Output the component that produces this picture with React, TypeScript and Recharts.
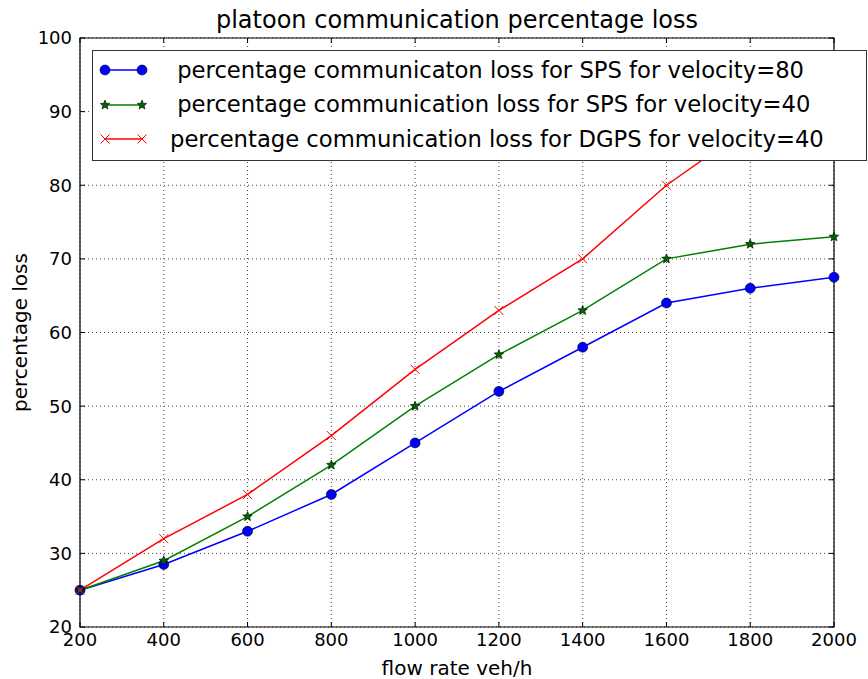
import React from 'react';
import {
  LineChart,
  Line,
  XAxis,
  YAxis,
  CartesianGrid,
  Legend,
  ReferenceArea,
} from 'recharts';

// flow rate categories (veh/h)
const FLOW = [200, 400, 600, 800, 1000, 1200, 1400, 1600, 1800, 2000];

// series values
const SPS_V80 = [25, 28.5, 33, 38, 45, 52, 58, 64, 66, 67.5];
const SPS_V40 = [25, 29, 35, 42, 50, 57, 63, 70, 72, 73];
const DGPS_V40 = [25, 32, 38, 46, 55, 63, 70, 80, 88, 93];

const X_TICKS = [200, 400, 600, 800, 1000, 1200, 1400, 1600, 1800, 2000];
const Y_TICKS = [20, 30, 40, 50, 60, 70, 80, 90, 100];

const W = 868;
const H = 679;
const TOP = 38;
const RIGHT = 34;
const Y_AXIS_W = 80;
const X_AXIS_H = 52;
const FONT = '"DejaVu Sans", sans-serif';

const SERIES = [
  { key: 'sps80', name: ' percentage communicaton loss for SPS for velocity=80', color: '#0000ff', marker: 'circle' },
  { key: 'sps40', name: ' percentage communication loss for SPS for velocity=40', color: '#008000', marker: 'star' },
  { key: 'dgps40', name: 'percentage communication loss for DGPS for velocity=40', color: '#ff0000', marker: 'x' },
];

const data = FLOW.map((f, i) => ({
  flow: f,
  sps80: SPS_V80[i],
  sps40: SPS_V40[i],
  dgps40: DGPS_V40[i],
}));

function starPath(cx: number, cy: number, ro: number, ri: number) {
  let d = '';
  for (let k = 0; k < 10; k++) {
    const r = k % 2 === 0 ? ro : ri;
    const a = -Math.PI / 2 + (k * Math.PI) / 5;
    d += (k === 0 ? 'M' : 'L') + (cx + r * Math.cos(a)).toFixed(2) + ',' + (cy + r * Math.sin(a)).toFixed(2);
  }
  return d + 'Z';
}

function Marker({ kind, cx, cy }: { kind: string; cx: number; cy: number }) {
  if (kind === 'circle') {
    return <circle cx={cx} cy={cy} r={5} fill="#0000ff" stroke="#000" strokeWidth={0.6} />;
  }
  if (kind === 'star') {
    return <path d={starPath(cx, cy, 5, 2.2)} fill="#006600" stroke="#000" strokeWidth={0.6} />;
  }
  return (
    <g stroke="#ff0000" strokeWidth={1}>
      <line x1={cx - 4.5} y1={cy - 4.5} x2={cx + 4.5} y2={cy + 4.5} />
      <line x1={cx - 4.5} y1={cy + 4.5} x2={cx + 4.5} y2={cy - 4.5} />
    </g>
  );
}

function makeDot(kind: string) {
  return (props: any) => {
    const { cx, cy, index } = props;
    if (cx == null || cy == null) return <g key={index} />;
    return (
      <g key={`${kind}-${index}`}>
        <Marker kind={kind} cx={cx} cy={cy} />
      </g>
    );
  };
}

// x tick label with inward ticks at bottom and top of the frame
function XTick(props: any) {
  const { x, y, payload } = props;
  const axisY = H - X_AXIS_H;
  return (
    <g>
      <line x1={x} y1={axisY} x2={x} y2={axisY - 5} stroke="#000" />
      <line x1={x} y1={TOP} x2={x} y2={TOP + 5} stroke="#000" />
      <text x={x} y={y} dy="0.71em" textAnchor="middle" fontSize={18} fontFamily={FONT} fill="#000">
        {payload.value}
      </text>
    </g>
  );
}

function YTick(props: any) {
  const { x, y, payload } = props;
  const axisX = Y_AXIS_W;
  const rightX = W - RIGHT;
  return (
    <g>
      <line x1={axisX} y1={y} x2={axisX + 5} y2={y} stroke="#000" />
      <line x1={rightX} y1={y} x2={rightX - 5} y2={y} stroke="#000" />
      <text x={x} y={y} dy="0.355em" textAnchor="end" fontSize={18} fontFamily={FONT} fill="#000">
        {payload.value}
      </text>
    </g>
  );
}

function LegendBox(props: any) {
  const payload = [...(props.payload || [])].sort(
    (a: any, b: any) =>
      SERIES.findIndex((s) => s.key === a.dataKey) - SERIES.findIndex((s) => s.key === b.dataKey),
  );
  return (
    <div
      style={{
        boxSizing: 'border-box',
        width: 775,
        height: 111,
        border: '1px solid #333',
        background: '#fff',
        paddingTop: 2,
        fontFamily: FONT,
        fontSize: 22.7,
        color: '#000',
      }}
    >
      {payload.map((entry: any) => {
        const s = SERIES.find((it) => it.key === entry.dataKey) || SERIES[0];
        return (
          <div key={s.key} style={{ display: 'flex', alignItems: 'center', height: 34.5 }}>
            <svg width={50} height={20} style={{ marginLeft: 6, flex: 'none' }}>
              <line x1={6} y1={10} x2={43} y2={10} stroke={s.color} strokeWidth={1.5} />
              <Marker kind={s.marker} cx={6} cy={10} />
              <Marker kind={s.marker} cx={43} cy={10} />
            </svg>
            <span style={{ marginLeft: 21, whiteSpace: 'pre', lineHeight: '27px' }}>{entry.value}</span>
          </div>
        );
      })}
    </div>
  );
}

export default function App() {
  return (
    <div style={{ position: 'absolute', left: 0, top: 0, width: W, height: H, background: '#fff' }}>
      <div
        style={{
          position: 'absolute',
          left: Y_AXIS_W,
          width: W - RIGHT - Y_AXIS_W,
          top: 6,
          textAlign: 'center',
          fontFamily: FONT,
          fontSize: 24,
          lineHeight: '28px',
          color: '#000',
          zIndex: 2,
        }}
      >
        platoon communication percentage loss
      </div>
      <LineChart width={W} height={H} data={data} margin={{ top: TOP, right: RIGHT, bottom: 0, left: 0 }}>
        <CartesianGrid
          stroke="#444"
          strokeDasharray="1 3"
          strokeWidth={1}
          horizontalValues={Y_TICKS}
          verticalValues={X_TICKS}
        />
        <XAxis
          dataKey="flow"
          type="number"
          domain={[200, 2000]}
          ticks={X_TICKS}
          height={X_AXIS_H}
          tickSize={0}
          tickMargin={6}
          axisLine={false}
          tick={<XTick />}
          label={{
            value: 'flow rate veh/h',
            position: 'insideBottom',
            offset: 4,
            fontSize: 20,
            fontFamily: FONT,
            fill: '#000',
          }}
        />
        <YAxis
          type="number"
          domain={[20, 100]}
          ticks={Y_TICKS}
          width={Y_AXIS_W}
          tickSize={0}
          tickMargin={8}
          axisLine={false}
          tick={<YTick />}
          label={{
            content: (p: any) => {
              const vb = p.viewBox || { x: 0, y: TOP, height: 589 };
              const cx = 20;
              const cy = vb.y + vb.height / 2;
              return (
                <text
                  x={cx}
                  y={cy}
                  transform={`rotate(-90, ${cx}, ${cy})`}
                  textAnchor="middle"
                  dominantBaseline="central"
                  fontSize={20}
                  fontFamily={FONT}
                  fill="#000"
                >
                  percentage loss
                </text>
              );
            },
          }}
        />
        <ReferenceArea x1={200} x2={2000} y1={20} y2={100} fill="none" stroke="#000" strokeWidth={1.2} />
        {SERIES.map((s) => (
          <Line
            key={s.key}
            type="linear"
            dataKey={s.key}
            name={s.name}
            stroke={s.color}
            strokeWidth={1.5}
            dot={makeDot(s.marker)}
            activeDot={false}
            isAnimationActive={false}
          />
        ))}
        <Legend
          layout="horizontal"
          verticalAlign="middle"
          align="center"
          content={<LegendBox />}
          wrapperStyle={{ position: 'absolute', top: 50, left: 92, width: 775, height: 111 }}
        />
      </LineChart>
    </div>
  );
}
